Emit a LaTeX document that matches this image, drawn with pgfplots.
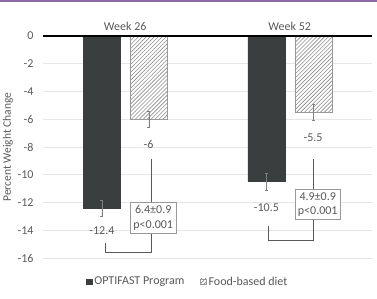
\documentclass[border=0pt]{standalone}
\usepackage{pgfplots}
\pgfplotsset{compat=1.18}
\usepackage{fontspec}
\setmainfont{Carlito}
\usetikzlibrary{patterns.meta}
\definecolor{darkbar}{HTML}{3B3E3F}
\definecolor{topline}{HTML}{8A6AA8}
\definecolor{gridc}{HTML}{E6E6E6}
\definecolor{txt}{HTML}{595959}
\begin{document}
\begin{tikzpicture}
\useasboundingbox (-43pt,-40pt) rectangle (334pt,258pt);
\fill[topline] (-43pt,256.3pt) rectangle (334pt,258pt);
\begin{axis}[
  at={(0,0)}, anchor=south west,
  scale only axis, width=329pt, height=222pt,
  ybar=10pt, bar width=37pt,
  xmin=-0.5, xmax=1.5, ymin=-16, ymax=0,
  xtick={0,1}, xticklabels={Week 26, Week 52},
  xticklabel pos=upper,
  ytick={-16,-14,...,0},
  major tick length=0pt,
  axis line style={draw=none},
  ymajorgrids, grid style={gridc, line width=0.6pt},
  tick label style={font=\fontsize{12}{14}\selectfont, text=txt},
  /pgf/number format/assume math mode=true,
  yticklabel style={xshift=-6pt},
  xticklabel style={yshift=2pt},
  ylabel={Percent Weight Change},
  ylabel style={font=\fontsize{11.5}{14}\selectfont, text=txt, yshift=-2pt},
  legend style={at={(0.44,-0.07)}, anchor=north, draw=none, legend columns=2,
    font=\fontsize{12}{14}\selectfont, text=txt, inner sep=1pt,
    /tikz/every even column/.append style={column sep=14pt}},
  legend image code/.code={\draw[#1] (0cm,-0.1cm) rectangle (0.2cm,0.1cm);},
  clip=false,
]
\addplot[fill=darkbar, draw=darkbar,
  error bars/.cd, y dir=both, y explicit,
  error bar style={gray, line width=0.5pt},
  error mark options={rotate=90, mark size=1.5pt, gray}]
  coordinates {(0,-12.4) +- (0,0.6) (1,-10.5) +- (0,0.6)};
\addlegendentry{OPTIFAST Program}
\addplot[fill=white, draw=gray!80,
  postaction={pattern={Lines[angle=45,distance=2.8pt,line width=0.6pt]}, pattern color=gray!90},
  error bars/.cd, y dir=both, y explicit,
  error bar style={gray, line width=0.5pt},
  error mark options={rotate=90, mark size=1.5pt, gray}]
  coordinates {(0,-6) +- (0,0.6) (1,-5.5) +- (0,0.55)};
\addlegendentry{Food-based diet}
\draw[black, line width=1.1pt] (rel axis cs:0,1) -- (rel axis cs:1,1);
% value labels
\begin{scope}[every node/.style={font=\fontsize{12}{14}\selectfont, text=txt}]
\node at (axis cs:-0.142,-14.0) {-12.4};
\node at (axis cs:0.142,-7.85) {-6};
\node at (axis cs:0.858,-12.4) {-10.5};
\node at (axis cs:1.142,-7.35) {-5.5};
\end{scope}
% brackets
\draw[gray!70!black, line width=0.6pt] (axis cs:-0.12,-14.9) -- (axis cs:-0.12,-15.6) -- (axis cs:0.158,-15.6) -- (axis cs:0.158,-8.9);
\draw[gray!70!black, line width=0.6pt] (axis cs:0.867,-13.7) -- (axis cs:0.867,-14.7) -- (axis cs:1.145,-14.7) -- (axis cs:1.145,-8.9);
\node[draw=gray!80, fill=white, align=center, inner sep=3pt, font=\fontsize{12}{14.5}\selectfont, text=txt] at (axis cs:0.17,-13.1) {6.4±0.9\\p<0.001};
\node[draw=gray!80, fill=white, align=center, inner sep=3pt, font=\fontsize{12}{14.5}\selectfont, text=txt] at (axis cs:1.17,-12.15) {4.9±0.9\\p<0.001};
\end{axis}
\end{tikzpicture}
\end{document}
